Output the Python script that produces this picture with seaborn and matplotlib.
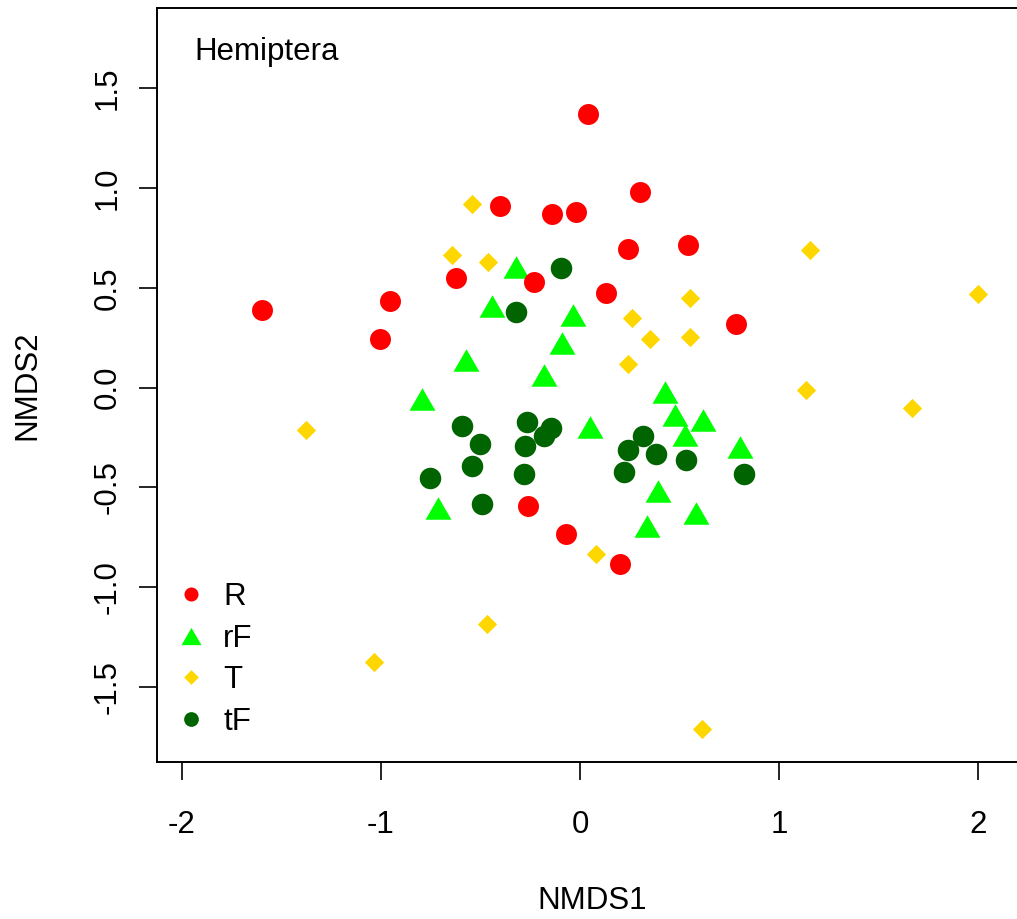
import numpy as np
import pandas as pd
import matplotlib
matplotlib.use("Agg")
import matplotlib.pyplot as plt
from matplotlib.lines import Line2D
import seaborn as sns

# ---------------- data ----------------
groups = ["R", "rF", "T", "tF"]
colors = {"R": "#FF0000", "rF": "#00FF00", "T": "#FFD700", "tF": "#006400"}

R_x = [0.042, 0.300, -0.401, -0.139, -0.019, 0.243, 0.544, -0.625, -0.233, 0.131,
       -1.600, -0.953, -1.006, 0.785, -0.263, -0.072, 0.203]
R_y = [1.371, 0.981, 0.909, 0.870, 0.879, 0.697, 0.717, 0.547, 0.527, 0.475,
       0.387, 0.435, 0.244, 0.317, -0.595, -0.735, -0.885]

rF_x = [-0.322, -0.442, -0.035, -0.090, -0.573, -0.181, -0.794, -0.714, 0.050,
        0.427, 0.477, 0.618, 0.528, 0.804, 0.392, 0.583, 0.337]
rF_y = [0.603, 0.408, 0.363, 0.223, 0.139, 0.063, -0.058, -0.604, -0.198,
        -0.023, -0.138, -0.163, -0.238, -0.298, -0.518, -0.629, -0.694]

T_x = [-0.543, -0.643, -0.462, 1.157, 0.553, 2.002, 0.263, 0.353, 0.553, 0.243,
       1.137, 1.670, -1.377, 0.080, -0.466, -1.034, 0.615]
T_y = [0.919, 0.667, 0.627, 0.689, 0.447, 0.467, 0.347, 0.246, 0.256, 0.116,
       -0.014, -0.104, -0.214, -0.835, -1.186, -1.376, -1.709]

tF_x = [-0.094, -0.323, -0.593, -0.504, -0.543, -0.754, -0.494, -0.265, -0.275,
        -0.283, -0.144, -0.181, 0.318, 0.243, 0.383, 0.533, 0.223, 0.823]
tF_y = [0.600, 0.378, -0.191, -0.283, -0.393, -0.455, -0.585, -0.173, -0.291,
        -0.433, -0.204, -0.243, -0.243, -0.313, -0.333, -0.363, -0.425, -0.435]

x_ticks = [-2, -1, 0, 1, 2]
x_ticklabels = ["-2", "-1", "0", "1", "2"]
y_ticks = [-1.5, -1.0, -0.5, 0.0, 0.5, 1.0, 1.5]
y_ticklabels = ["-1.5", "-1.0", "-0.5", "0.0", "0.5", "1.0", "1.5"]

df = pd.concat([
    pd.DataFrame({"NMDS1": R_x, "NMDS2": R_y, "group": "R"}),
    pd.DataFrame({"NMDS1": rF_x, "NMDS2": rF_y, "group": "rF"}),
    pd.DataFrame({"NMDS1": T_x, "NMDS2": T_y, "group": "T"}),
    pd.DataFrame({"NMDS1": tF_x, "NMDS2": tF_y, "group": "tF"}),
], ignore_index=True)

# ---------------- style ----------------
sns.set_style("white")
plt.rcParams["font.family"] = ["Liberation Sans", "DejaVu Sans"]
plt.rcParams["axes.unicode_minus"] = False
plt.rcParams["text.color"] = "black"
plt.rcParams["axes.labelcolor"] = "black"
plt.rcParams["xtick.color"] = "black"
plt.rcParams["ytick.color"] = "black"

tri = [(0, 1), (-1.1547, -1), (1.1547, -1), (0, 1)]
dia = [(0, 1), (1, 0), (0, -1), (-1, 0), (0, 1)]
markers = {"R": "o", "rF": tri, "T": dia, "tF": "o"}
sizes = {"R": 228, "rF": 350, "T": 193, "tF": 240}
leg_ms = {"R": 10.1, "rF": 14.4, "T": 10.6, "tF": 10.6}

W, H = 1017, 919
fig = plt.figure(figsize=(W / 100, H / 100), dpi=100)
left, right, top, bottom = 157.3, 1026.0, 8.0, 762.3
ax = fig.add_axes([left / W, 1 - bottom / H, (right - left) / W, (bottom - top) / H])

for g in ["rF", "T", "R", "tF"]:
    sub = df[df["group"] == g]
    sns.scatterplot(data=sub, x="NMDS1", y="NMDS2", ax=ax, color=colors[g],
                    marker=markers[g], s=sizes[g], linewidth=0, legend=False,
                    zorder=3)

ax.set_xlim(-2.124, 2.241)
ax.set_ylim(-1.877, 1.902)

FS = 22.5
ax.set_xticks(x_ticks)
ax.set_xticklabels(x_ticklabels, fontsize=FS)
ax.set_yticks(y_ticks)
ax.set_yticklabels(y_ticklabels, fontsize=FS, rotation=90, va="center")
ax.tick_params(axis="x", bottom=True, top=False, direction="out", length=13.3,
               width=1.2, pad=21, colors="black")
ax.tick_params(axis="y", left=True, right=False, direction="out", length=13.3,
               width=1.2, pad=11.5, colors="black")
for name, sp in ax.spines.items():
    sp.set_linewidth(1.4)
    sp.set_color("black")
ax.spines["right"].set_visible(False)

ax.set_xlabel("NMDS1", fontsize=FS)
ax.set_ylabel("NMDS2", fontsize=FS)
ax.xaxis.set_label_coords(591.8 / W, 1 - 886.0 / H, transform=fig.transFigure)
ax.yaxis.set_label_coords(42.0 / W, 1 - 385.0 / H, transform=fig.transFigure)

fig.text(194.7 / W, 1 - 60.0 / H, "Hemiptera", fontsize=FS, ha="left", va="baseline")

handles = [Line2D([], [], linestyle="none", marker=markers[g], color=colors[g],
                  markersize=leg_ms[g], markeredgewidth=0) for g in groups]
ax.legend(handles, groups, loc="upper left",
          bbox_to_anchor=(175.1 / W, 1 - 582.0 / H), bbox_transform=fig.transFigure,
          frameon=False, borderpad=0, borderaxespad=0, handlelength=1.0,
          handletextpad=0.54, labelspacing=0.37, fontsize=FS)

fig.savefig("out.png", dpi=100)
